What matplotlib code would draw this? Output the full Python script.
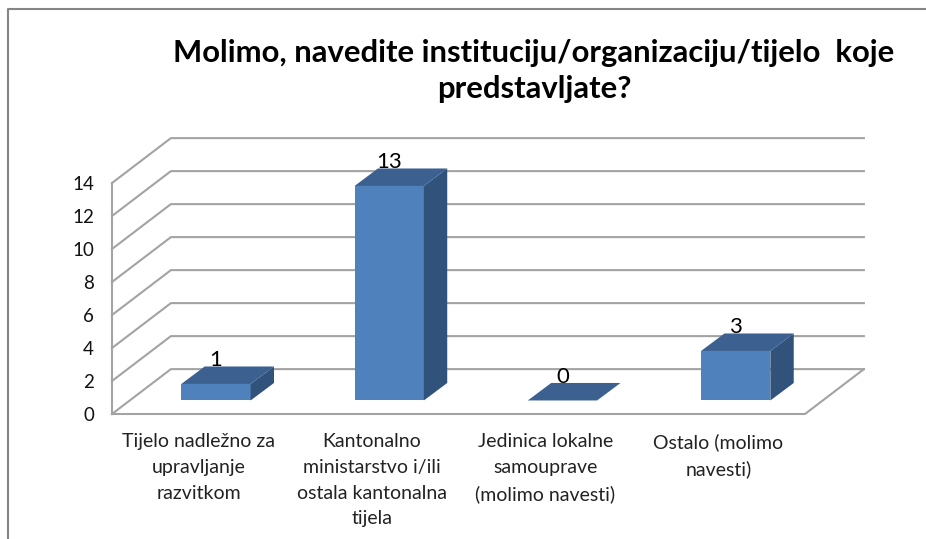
import matplotlib
matplotlib.use("Agg")
from matplotlib import pyplot as plt
from matplotlib.patches import Polygon

title = "Molimo, navedite instituciju/organizaciju/tijelo  koje\npredstavljate?"
categories = ["Tijelo nadležno za\nupravljanje\nrazvitkom",
              "Kantonalno\nministarstvo i/ili\nostala kantonalna\ntijela",
              "Jedinica lokalne\nsamouprave\n(molimo navesti)",
              "Ostalo (molimo\nnavesti)"]
values = [1, 13, 0, 3]
yticks = [0, 2, 4, 6, 8, 10, 12, 14]

# oblique projection, in data units
DX = 0.34
DY = 2.72
BAR_W = 0.40
BAR_DX = 0.135
BAR_DY = 1.06
BAR_Y0 = 0.82
BAR_X0 = 0.40

plt.rcParams['font.family'] = ['Lato', 'DejaVu Sans']

W, H = 926, 539
fig = plt.figure(figsize=(W / 100, H / 100), dpi=100)
ax = fig.add_axes([112 / W, 1 - 414 / H, 693 / W, 231 / H])
ax.set_xlim(0, 4)
ax.set_ylim(0, 14)
ax.patch.set_visible(False)
for s in ax.spines.values():
    s.set_visible(False)

grid = '#a3a3a3'
for v in yticks:
    ax.plot([0, DX, 4 + DX], [v, v + DY, v + DY], color=grid, lw=1.5, clip_on=False, zorder=1)
ax.plot([0, 0], [0, 14], color=grid, lw=1.5, clip_on=False, zorder=1)
ax.plot([0, 4, 4 + DX], [0, 0, DY], color=grid, lw=1.5, clip_on=False, zorder=1)

for i, v in enumerate(values):
    x0 = i + BAR_X0
    x1 = x0 + BAR_W
    y0 = BAR_Y0
    y1 = y0 + v
    if v > 0:
        ax.add_patch(Polygon([(x0, y0), (x1, y0), (x1, y1), (x0, y1)], fc='#4f81bd', ec='none', clip_on=False, zorder=3))
        ax.add_patch(Polygon([(x1, y0), (x1 + BAR_DX, y0 + BAR_DY), (x1 + BAR_DX, y1 + BAR_DY), (x1, y1)],
                             fc='#30527b', ec='none', clip_on=False, zorder=3))
    ax.add_patch(Polygon([(x0, y1), (x1, y1), (x1 + BAR_DX, y1 + BAR_DY), (x0 + BAR_DX, y1 + BAR_DY)],
                         fc='#3c6191', ec='none', clip_on=False, zorder=3))
    ax.annotate(str(v), ((x0 + x1) / 2, y1), xytext=(0, 17), textcoords='offset points',
                ha='center', va='center', fontsize=16, color='black', zorder=4, annotation_clip=False)

ax.set_yticks(yticks)
ax.set_yticklabels([str(t) for t in yticks], fontsize=13.5, color='#111111')
ax.set_xticks([i + 0.5 for i in range(4)])
ax.set_xticklabels(categories, fontsize=14, color='#222222', linespacing=1.62)
ax.tick_params(axis='both', length=0)
ax.tick_params(axis='y', pad=13)
ax.tick_params(axis='x', pad=14)

fig.text(534 / W, 1 - 71 / H, title, ha='center', va='center', fontsize=22.3, fontweight='bold',
         color='black', linespacing=1.38)

# outer chart frame
frame = '#858585'
fig.add_artist(plt.Line2D([8 / W, 8 / W, W / W], [0, 1 - 9 / H, 1 - 9 / H], color=frame, lw=1.5))

fig.savefig('out.png', dpi=100)
